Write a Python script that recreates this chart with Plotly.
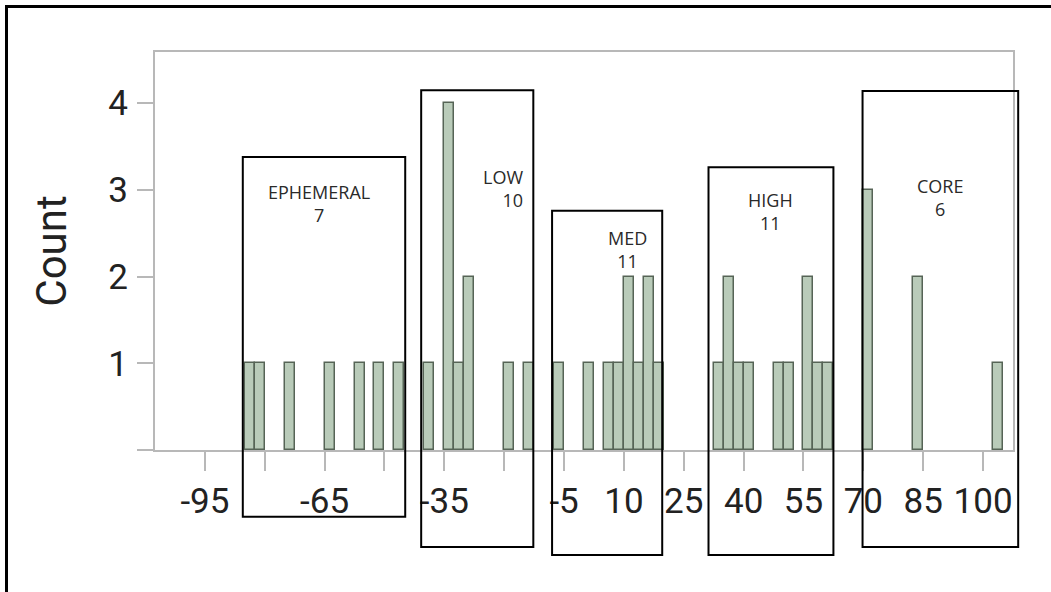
import plotly.graph_objects as go

# Histogram bins (left edge, width 2.5) and counts
bin_width = 2.5
bin_left = [-85, -82.5, -75, -65, -57.5, -52.5, -47.5,
            -40, -35, -32.5, -30, -20, -15,
            -7.5, 0, 5, 7.5, 10, 12.5, 15, 17.5,
            32.5, 35, 37.5, 40, 47.5, 50, 55, 57.5, 60,
            70, 82.5, 102.5]
counts = [1, 1, 1, 1, 1, 1, 1,
          1, 4, 1, 2, 1, 1,
          1, 1, 1, 1, 2, 1, 2, 1,
          1, 2, 1, 1, 1, 1, 2, 1, 1,
          3, 2, 1]

x_tickvals = [-95, -80, -65, -50, -35, -20, -5, 10, 25, 40, 55, 70, 85, 100]
x_ticktext = ["-95", "", "-65", "", "-35", "", "-5", "10", "25", "40", "55", "70", "85", "100"]
y_tickvals = [0, 1, 2, 3, 4]
y_ticktext = ["", "1", "2", "3", "4"]

# Group boxes: name, count label, x0, x1 (data units), y0, y1 (count units)
group_names = ["EPHEMERAL", "LOW", "MED", "HIGH", "CORE"]
group_counts = ["7", "10", "11", "11", "6"]
box_x0 = [-85.5, -40.8, -8.0, 31.2, 69.8]
box_x1 = [-44.8, -12.7, 19.6, 62.5, 108.8]
box_y0 = [-0.77, -1.12, -1.21, -1.21, -1.12]
box_y1 = [3.38, 4.15, 2.76, 3.26, 4.14]
# label anchor (data x, count y) and alignment
lab_x = [-66.4, -14.7, 10.8, 46.7, 89.3]
lab_y = [2.84, 3.02, 2.31, 2.75, 2.91]
lab_align = ["center", "right", "center", "center", "center"]
lab_xanchor = ["center", "right", "center", "center", "center"]

XR = [-107.5, 107.5]
YR = [0, 4.59]

W, H = 1051, 592
ML, MR, MT, MB = 155, 38, 52, 142
PW, PH = W - ML - MR, H - MT - MB

def px(v):
    return (v - XR[0]) / (XR[1] - XR[0])

def py(v):
    return (v - YR[0]) / (YR[1] - YR[0])

fig = go.Figure()
fig.add_trace(go.Bar(
    x=[b + bin_width / 2 for b in bin_left],
    y=counts,
    width=bin_width,
    marker=dict(color="#b9cbb9", line=dict(color="#566456", width=1.5)),
    hoverinfo="x+y",
))

shapes = []
annotations = []
for i in range(len(group_names)):
    shapes.append(dict(type="rect", xref="paper", yref="paper",
                       x0=px(box_x0[i]), x1=px(box_x1[i]),
                       y0=py(box_y0[i]), y1=py(box_y1[i]),
                       line=dict(color="black", width=2), fillcolor="rgba(0,0,0,0)",
                       layer="above"))
    annotations.append(dict(xref="x", yref="y", x=lab_x[i], y=lab_y[i],
                            xanchor=lab_xanchor[i], yanchor="middle",
                            text=group_names[i] + "<br>" + group_counts[i],
                            showarrow=False, align=lab_align[i],
                            font=dict(family="Open Sans", size=18, color="#2a2a2a")))

# outer frame of the image (top and left edges visible)
shapes.append(dict(type="rect", xref="paper", yref="paper",
                   x0=(6.5 - ML) / PW, x1=(1060 - ML) / PW,
                   y0=(H - MB - 600) / PH, y1=(H - MB - 6.5) / PH,
                   line=dict(color="black", width=3), fillcolor="rgba(0,0,0,0)", layer="above"))

tickfont = dict(family="Roboto", size=35, color="#222222")

fig.update_layout(
    width=W, height=H,
    margin=dict(l=ML, r=MR, t=MT, b=MB),
    paper_bgcolor="white", plot_bgcolor="white",
    showlegend=False, bargap=0,
    font=dict(family="Roboto", color="#222222"),
    shapes=shapes, annotations=annotations,
    xaxis=dict(range=XR, tickvals=x_tickvals, ticktext=x_ticktext,
               ticks="outside", ticklen=19, tickwidth=2, tickcolor="#b8b8b8",
               showline=True, linecolor="#b8b8b8", linewidth=2, mirror=True,
               showgrid=False, zeroline=False, ticklabelstandoff=0,
               tickfont=tickfont),
    yaxis=dict(range=YR, tickvals=y_tickvals, ticktext=y_ticktext,
               ticks="outside", ticklen=16, tickwidth=2, tickcolor="#b8b8b8",
               showline=True, linecolor="#b8b8b8", linewidth=2, mirror=True,
               showgrid=False, zeroline=False, ticklabelstandoff=2,
               title=dict(text="Count", font=dict(family="Roboto", size=42, color="#222222"), standoff=29),
               tickfont=tickfont),
)

fig.write_html("out.html", config={"displayModeBar": False},
               post_script="document.body.style.margin='0';document.body.style.overflow='hidden';")
